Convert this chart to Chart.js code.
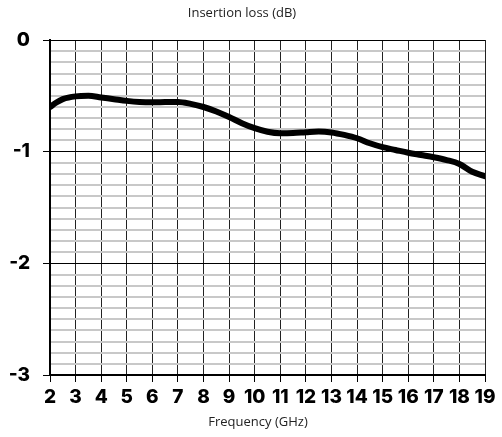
<!DOCTYPE html>
<html>
<head>
<meta charset="utf-8">
<script src="https://cdn.jsdelivr.net/npm/chart.js@4/dist/chart.umd.min.js"></script>
<style>
  html, body { margin: 0; padding: 0; background: #fff; }
  #wrap { width: 502px; height: 437px; position: relative; }
</style>
</head>
<body>
<div id="wrap"><canvas id="c" width="502" height="437"></canvas></div>
<script>
// Data
const frequencyGHz = [2, 2.25, 2.5, 3, 3.5, 4, 4.5, 5, 5.5, 6, 6.5, 7, 7.5, 8, 8.5, 9, 9.5, 10, 10.5, 11, 11.5, 12, 12.5, 13, 13.5, 14, 14.5, 15, 15.5, 16, 16.5, 17, 17.5, 18, 18.5, 19];
const insertionLossDB = [-0.60, -0.56, -0.53, -0.505, -0.50, -0.515, -0.53, -0.545, -0.555, -0.558, -0.556, -0.555, -0.572, -0.60, -0.64, -0.69, -0.745, -0.79, -0.822, -0.835, -0.833, -0.826, -0.82, -0.828, -0.85, -0.88, -0.925, -0.96, -0.985, -1.01, -1.03, -1.05, -1.075, -1.11, -1.18, -1.22];
const xTickValues = [2,3,4,5,6,7,8,9,10,11,12,13,14,15,16,17,18,19];
const yTickLabels = ['0', '-1', '-2', '-3'];
const titleText = 'Insertion loss (dB)';
const xTitleText = 'Frequency (GHz)';

const points = frequencyGHz.map((f, i) => ({ x: f, y: insertionLossDB[i] }));
const isInt = v => Math.abs(v - Math.round(v)) < 1e-6;

const titlesPlugin = {
  id: 'titles',
  afterDraw(chart) {
    const ctx = chart.ctx;
    ctx.save();
    ctx.fillStyle = '#222';
    ctx.font = '13px "Open Sans"';
    ctx.textAlign = 'center';
    ctx.textBaseline = 'middle';
    ctx.fillText(titleText, 242, 13);
    ctx.fillText(xTitleText, 258, 422);
    ctx.restore();
  }
};

const tickFont = { family: 'Inter, "Liberation Sans", sans-serif', size: 19, weight: '800' };

new Chart(document.getElementById('c'), {
  type: 'line',
  data: {
    datasets: [{
      data: points,
      borderColor: '#000',
      borderWidth: 6,
      pointRadius: 0,
      cubicInterpolationMode: 'monotone',
      borderCapStyle: 'round',
      borderJoinStyle: 'round',
      fill: false
    }]
  },
  options: {
    responsive: false,
    animation: false,
    devicePixelRatio: 1,
    layout: { padding: { top: 40, right: 17, bottom: 0, left: 0 } },
    plugins: { legend: { display: false }, tooltip: { enabled: false }, title: { display: false } },
    scales: {
      x: {
        type: 'linear',
        min: 2, max: 19,
        afterBuildTicks(scale) { scale.ticks = xTickValues.map(v => ({ value: v })); },
        afterFit(scale) { scale.height = 62; },
        ticks: {
          color: '#000',
          font: tickFont,
          padding: 4,
          maxRotation: 0,
          autoSkip: false
        },
        grid: { color: '#222', lineWidth: 1, tickLength: 7, tickColor: '#000', drawOnChartArea: true },
        border: { color: '#000', width: 2 }
      },
      y: {
        type: 'linear',
        min: -3, max: 0,
        afterFit(scale) { scale.width = 50; },
        ticks: {
          stepSize: 0.1,
          autoSkip: false,
          color: '#000',
          font: tickFont,
          padding: 13,
          callback(v) {
            if (!isInt(v)) return '';
            return yTickLabels[Math.round(-v)];
          }
        },
        grid: {
          tickLength: 7,
          color: ctx => isInt(ctx.tick.value) ? '#000' : '#c8c8c8',
          lineWidth: ctx => isInt(ctx.tick.value) ? 1 : 2,
          tickColor: ctx => isInt(ctx.tick.value) ? '#000' : 'rgba(0,0,0,0)'
        },
        border: { color: '#000', width: 2 }
      }
    }
  },
  plugins: [titlesPlugin]
});
</script>
</body>
</html>
